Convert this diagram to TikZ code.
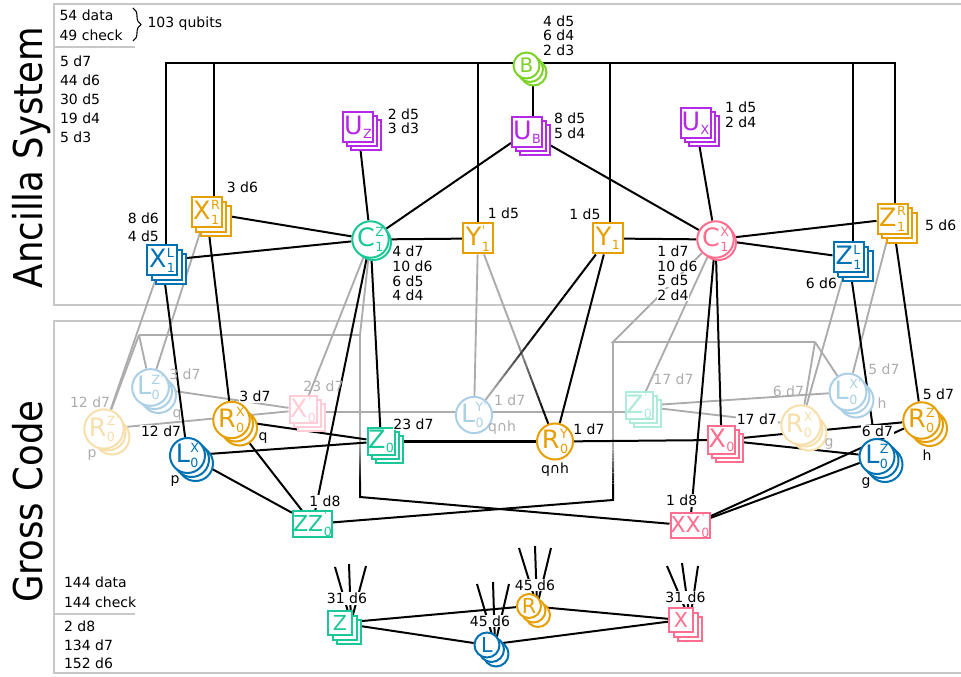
\documentclass[tikz,border=0pt]{standalone}
\usepackage{fontspec}
\setmainfont{DejaVu Sans}
\usepackage{graphicx}
\usetikzlibrary{calc,decorations.pathreplacing}
\definecolor{cblue}{RGB}{0,114,178}
\definecolor{corange}{RGB}{230,159,0}
\definecolor{cpink}{RGB}{255,110,142}
\definecolor{cteal}{RGB}{25,200,150}
\definecolor{cpurple}{RGB}{180,40,230}
\definecolor{clime}{RGB}{125,210,40}
\definecolor{cgray}{RGB}{172,172,172}
\definecolor{cframe}{RGB}{200,200,200}
\colorlet{fblue}{cblue!33}
\colorlet{forange}{corange!33}
\colorlet{fpink}{cpink!35}
\colorlet{fteal}{cteal!35}
\pgfdeclarelayer{bg}
\pgfsetlayers{bg,main}
% letter with subscript and superscript stacked on its right (subscript set first)
\newcommand\NL[3]{#1\kern0.4pt\begingroup\fontsize{9.5}{9.5}\selectfont
  \setbox0\hbox{\raisebox{7.8pt}{#2}}\setbox2\hbox{\raisebox{-3.8pt}{#3}}%
  \ifdim\wd0>\wd2 \dimen0=\wd0 \else\dimen0=\wd2 \fi
  \rlap{\box2}\hbox to \dimen0{\box0\hfil}\endgroup}
\newcommand\NS[2]{#1\kern0.4pt\raisebox{-3.2pt}{\fontsize{9.5}{9.5}\selectfont #2}}
\newcommand\pr{ˈ}
% #1 copies, #2 offset, #3 name, #4 x, #5 y, #6 style, #7 colour, #8 text
\newcommand\stk[8]{%
  \ifnum#1>2 \node[#6,draw=#7] (#3-c) at ({#4+2*#2},{#5+2*#2}) {};\fi
  \ifnum#1>1 \node[#6,draw=#7] (#3-b) at ({#4+#2},{#5+#2}) {};\fi
  \node[#6,draw=#7,text=#7] (#3) at (#4,#5) {#8};}
% gradient line: from, to, start colour, end colour, p0, p1
\newcommand\gradline[6]{%
  \path (#1) -- (#2) coordinate[pos=0] (gS) coordinate[pos=1] (gE);
  \foreach \i in {0,...,23}{%
    \pgfmathsetmacro\gA{\i/24}%
    \pgfmathsetmacro\gB{(\i+1)/24}%
    \pgfmathsetmacro\gP{100*min(1,max(0,((\i+0.5)/24-#5)/(#6-#5)))}%
    \draw[line width=1.5pt,color=#4!\gP!#3] ($(gS)!\gA!(gE)$) -- ($(gS)!\gB!(gE)$);
  }}
\tikzset{
  nbase/.style={inner sep=0pt, line width=1.5pt, fill=white, font=\fontsize{19}{19}\selectfont},
  sq/.style={nbase, rectangle, minimum width=#1, minimum height=#1},
  rc/.style 2 args={nbase, rectangle, minimum width=#1, minimum height=#2, font=\fontsize{16.5}{16.5}\selectfont},
  cc/.style={nbase, circle, minimum size=#1},
  conn/.style={line width=1.5pt, black},
  gconn/.style={line width=1.4pt, cgray},
  frm/.style={line width=1.5pt, cframe},
  lbl/.style={inner sep=0.6pt, fill=white, font=\fontsize{10.5}{12}\selectfont, anchor=west},
  glbl/.style={lbl, fill=none, text=cgray},
  small/.style={font=\fontsize{15.5}{15.5}\selectfont},
}
\begin{document}
\begin{tikzpicture}[x=0.75pt,y=-0.75pt]
\useasboundingbox (0,0) rectangle (961,677);

% ---------- nodes: ancilla ----------
\stk{3}{3.5}{B}{526.5}{65.5}{cc=19.5pt,font=\fontsize{15}{15}\selectfont}{clime}{B}
\stk{3}{4}{UB}{527}{132}{sq=22.5pt}{cpurple}{\NS{U}{B}}
\stk{3}{4}{UZ}{358}{127.5}{sq=22.5pt}{cpurple}{\NS{U}{Z}}
\stk{3}{4}{UX}{695.5}{123}{sq=22.5pt}{cpurple}{\NS{U}{X}}
\stk{2}{3}{C1Z}{370.5}{239.5}{cc=26.25pt}{cteal}{\NL{C}{Z}{1}}
\stk{2}{3}{C1X}{715.5}{239.5}{cc=26.25pt}{cpink}{\NL{C}{X}{1}}
\stk{1}{0}{Y1p}{478}{238.5}{sq=22.5pt}{corange}{\NL{Y}{\pr}{1}}
\stk{1}{0}{Y1}{608}{238.5}{sq=22.5pt}{corange}{\NS{Y}{1}}
\stk{3}{4.5}{X1R}{206.5}{212.5}{sq=22.5pt}{corange}{\NL{X}{R}{1}}
\stk{3}{4.5}{X1L}{162}{260.5}{sq=22.5pt}{cblue}{\NL{X}{L}{1}}
\stk{3}{4.5}{Z1R}{892.5}{219}{sq=22.5pt}{corange}{\NL{Z}{R}{1}}
\stk{3}{4.5}{Z1L}{848.5}{257.5}{sq=22.5pt}{cblue}{\NL{Z}{L}{1}}

% ---------- nodes: gross code (faded) ----------
\stk{3}{4}{RZp}{104}{429}{cc=26.25pt}{forange}{\NL{R}{Z\pr}{0}}
\stk{3}{4}{LZp}{150.5}{387.5}{cc=26.25pt}{fblue}{\NL{L}{Z\pr}{0}}
\stk{3}{4}{X0p}{303}{410}{sq=20.25pt}{fpink}{\NL{X}{\pr}{0}}
\stk{1}{0}{LYp}{474}{415}{cc=25.5pt}{fblue}{\NL{L}{Y\pr}{0}}
\stk{3}{4}{Z0p}{639}{406}{sq=20.25pt}{fteal}{\NL{Z}{\pr}{0}}
\stk{3}{4}{RXp}{801}{425}{cc=26.25pt}{forange}{\NL{R}{X\pr}{0}}
\stk{3}{4}{LXp}{848}{392}{cc=26.25pt}{fblue}{\NL{L}{X\pr}{0}}

% ---------- nodes: gross code ----------
\stk{3}{4}{L0X}{187.5}{455.5}{cc=26.25pt}{cblue}{\NL{L}{X}{0}}
\stk{3}{4}{R0X}{231.5}{420}{cc=26.25pt}{corange}{\NL{R}{X}{0}}
\stk{3}{4}{Z0}{381}{441.5}{sq=20.25pt}{cteal}{\NS{Z}{0}}
\stk{1}{0}{R0Y}{555}{441.5}{cc=25.5pt}{corange}{\NL{R}{Y}{0}}
\stk{3}{4}{X0}{721.5}{440}{sq=20.25pt}{cpink}{\NS{X}{0}}
\stk{3}{4}{L0Z}{877}{456.5}{cc=26.25pt}{cblue}{\NL{L}{Z}{0}}
\stk{3}{4}{R0Z}{921.5}{420.5}{cc=26.25pt}{corange}{\NL{R}{Z}{0}}
\stk{1}{0}{ZZ}{312.5}{524}{rc={29.25pt}{18pt}}{cteal}{\NL{ZZ}{\pr}{0}}
\stk{1}{0}{XX}{690}{525.5}{rc={29.25pt}{18pt}}{cpink}{\NL{XX}{\pr}{0}}

% ---------- nodes: bottom ----------
\stk{3}{4.5}{Zb}{340}{623}{sq=18pt,small}{cteal}{Z}
\stk{3}{4.5}{Lb}{487}{645}{cc=18.75pt,small}{cblue}{L}
\stk{3}{4.5}{Rb}{529}{606}{cc=18pt,small}{corange}{R}
\stk{3}{4.5}{Xb}{681}{620}{sq=18pt,small}{cpink}{X}

% ---------- coordinates ----------
\coordinate (bL) at (165.7,63.3);
\coordinate (bR) at (895,63.3);
\coordinate (b2) at (213.7,63.3);
\coordinate (b3) at (478,63.3);
\coordinate (b4) at (610,63.3);
\coordinate (b5) at (853,63.3);
\coordinate (bub) at (533,66);
\coordinate (rzc) at (360,335);
\coordinate (rzl) at (139,335);
\coordinate (rzg) at (360,445);
\coordinate (rzk) at (360,482);
\coordinate (rzb) at (360,497);
\coordinate (rxc) at (613,342);
\coordinate (rxr) at (815,342);
\coordinate (rxg) at (613,448);
\coordinate (rxk) at (613,485);
\coordinate (rxb) at (613,500);
\coordinate (zbase) at (351,622);
\coordinate (zs1) at (335,567);
\coordinate (zs2) at (349,564);
\coordinate (zs3) at (366,566);
\coordinate (lbase) at (495,645);
\coordinate (ls1) at (477,584);
\coordinate (ls2) at (493,582);
\coordinate (ls3) at (509,584);
\coordinate (rbase) at (537,606);
\coordinate (rs1) at (519,548);
\coordinate (rs2) at (535,546);
\coordinate (rs3) at (551,548);
\coordinate (xbase) at (690,620);
\coordinate (xs1) at (667,566);
\coordinate (xs2) at (682,563);
\coordinate (xs3) at (698,566);
\coordinate (br1) at (133,8);
\coordinate (br2) at (133,41);

\begin{pgfonlayer}{bg}
  % frames
  \draw[frm] (54,4) rectangle (990,305);
  \draw[frm] (54,320.7) rectangle (990,672.7);
  \draw[frm] (54,46.7) -- (135,46.7);
  \draw[frm] (54,613.7) -- (135,613.7);
  % gray connectors
  \draw[gconn] (X1L) -- (RZp);
  \draw[gconn] (X1R) -- (LZp);
  \draw[gconn] (C1Z) -- (X0p);
  \draw[gconn] (C1X) -- (Z0p);
  \draw[gconn] (Z1L) -- (RXp);
  \draw[gconn] (Z1R) -- (LXp);
  \draw[gconn] (Y1p) -- (LYp);
  \draw[gconn] (C1Z) -- (rzc) -- (rzl);
  \draw[gconn] (rzl) -- (RZp);
  \draw[gconn] (rzl) -- (LZp);
  \draw[gconn] (rzc) -- (rzg);
  \draw[gconn] (C1X) -- (rxc) -- (rxr);
  \draw[gconn] (rxr) -- (LXp);
  \draw[gconn] (rxr) -- (RXp);
  \draw[gconn] (rxc) -- (rxg);
  \draw[gconn] (RZp) -- (X0p);
  \draw[gconn] (LZp) -- (X0p);
  \draw[gconn] (X0p.east |- 0,412) -- (Z0p.west |- 0,412);
  \draw[gconn] (Z0p) -- (RXp);
  \draw[gconn] (Z0p) -- (LXp);
  % gradient connectors
  \gradline{rzg}{rzk}{cgray}{black}{0}{1}
  \gradline{rxg}{rxk}{cgray}{black}{0}{1}
  \gradline{Y1p}{R0Y}{cgray}{black}{0.5}{0.95}
  \gradline{Y1}{LYp}{black}{cgray}{0.55}{0.95}
  % black connectors: ancilla
  \draw[conn] (bL |- X1L.north) -- (bL) -- (bR) -- (bR |- Z1R.north);
  \draw[conn] (b2) -- (b2 |- X1R.north);
  \draw[conn] (b3) -- (b3 |- Y1p.north);
  \draw[conn] (b4) -- (b4 |- Y1.north);
  \draw[conn] (b5) -- (b5 |- Z1L.north);
  \draw[conn] (bub) -- (bub |- UB.north);
  \draw[conn] (UZ) -- (C1Z);
  \draw[conn] (UB) -- (C1Z);
  \draw[conn] (UB) -- (C1X);
  \draw[conn] (UX) -- (C1X);
  \draw[conn] (C1Z) -- (Y1p);
  \draw[conn] (Y1) -- (C1X);
  \draw[conn] (C1Z) -- (X1R);
  \draw[conn] (C1Z) -- (X1L);
  \draw[conn] (C1X) -- (Z1R);
  \draw[conn] (C1X) -- (Z1L);
  % ancilla to gross
  \draw[conn] (X1L) -- (L0X);
  \draw[conn] (X1R) -- (R0X);
  \draw[conn] (C1Z) -- (Z0);
  \draw[conn] (C1Z) -- (ZZ);
  \draw[conn] (Y1) -- (R0Y);
  \draw[conn] (C1X) -- (X0);
  \draw[conn] (C1X) -- (XX);
  \draw[conn] (Z1L) -- (L0Z);
  \draw[conn] (Z1R) -- (R0Z);
  % gross code
  \draw[conn] (R0X) -- (Z0);
  \draw[conn] (L0X) -- (Z0);
  \draw[conn] (Z0) -- (R0Y);
  \draw[conn] (R0Y) -- (X0);
  \draw[conn] (X0) -- (R0Z);
  \draw[conn] (X0) -- (L0Z);
  \draw[conn] (L0X) -- (ZZ);
  \draw[conn] (R0X) -- (ZZ);
  \draw[conn] (XX) -- (L0Z);
  \draw[conn] (XX) -- (R0Z);
  \draw[conn] (rzk) -- (rzb) -- (XX);
  \draw[conn] (rxk) -- (rxb) -- (ZZ);
  % bottom
  \draw[conn] (Zb) -- (Rb);
  \draw[conn] (Zb) -- (Lb);
  \draw[conn] (Rb) -- (Xb);
  \draw[conn] (Lb) -- (Xb);
  \foreach \b/\s in {zbase/zs1,zbase/zs2,zbase/zs3,lbase/ls1,lbase/ls2,lbase/ls3,rbase/rs1,rbase/rs2,rbase/rs3,xbase/xs1,xbase/xs2,xbase/xs3}
    \draw[conn] (\b) -- (\s);
\end{pgfonlayer}

% brace
\draw[line width=0.8pt, decorate, decoration={brace, amplitude=6pt}] (br1) -- (br2);

% big titles
\node[rotate=90, anchor=base, inner sep=0pt] (tAnc) at (42.5,157.5)
  {\scalebox{1}[1.12]{\fontsize{26.6}{27}\selectfont Ancilla System}};
\node[rotate=90, anchor=base, inner sep=0pt] (tGro) at (42.5,501.5)
  {\scalebox{1}[1.12]{\fontsize{26.6}{27}\selectfont Gross Code}};

% stats
\node[lbl] (s1) at (58.5,15) {54 data};
\node[lbl] (s2) at (58.5,35) {49 check};
\node[lbl] (s3) at (146.5,24) {103 qubits};
\foreach \t [count=\k from 0] in {5 d7,44 d6,30 d5,19 d4,5 d3}
  \node[lbl] (sa\k) at (59,{61+19.05*\k}) {\t};
\node[lbl] (g1) at (63,582.3) {144 data};
\node[lbl] (g2) at (63,602.6) {144 check};
\node[lbl] (g3) at (63,626.3) {2 d8};
\node[lbl] (g4) at (63,644.9) {134 d7};
\node[lbl] (g5) at (63,663.5) {152 d6};

% ancilla labels
\foreach \t [count=\k from 0] in {4 d5,6 d4,2 d3}
  \node[lbl] (lB\k) at (542,{21+14.4*\k}) {\t};
\foreach \t [count=\k from 0] in {8 d5,5 d4}
  \node[lbl] (lUB\k) at (553,{118.5+14.5*\k}) {\t};
\foreach \t [count=\k from 0] in {2 d5,3 d3}
  \node[lbl] (lUZ\k) at (386.7,{114+14*\k}) {\t};
\foreach \t [count=\k from 0] in {1 d5,2 d4}
  \node[lbl] (lUX\k) at (724,{107+15*\k}) {\t};
\foreach \t [count=\k from 0] in {4 d7,10 d6,6 d5,4 d4}
  \node[lbl] (lCZ\k) at (391.3,{251+14.9*\k}) {\t};
\foreach \t [count=\k from 0] in {1 d7,10 d6,5 d5,2 d4}
  \node[lbl] (lCX\k) at (656.3,{251.7+14.5*\k}) {\t};
\node[lbl] (lY1p) at (486.7,212.8) {1 d5};
\node[lbl] (lY1) at (568.3,213.8) {1 d5};
\node[lbl] (lX1R) at (225.7,187) {3 d6};
\node[lbl] (lX1La) at (126.7,218.5) {8 d6};
\node[lbl] (lX1Lb) at (126.7,236) {4 d5};
\node[lbl] (lZ1R) at (924,225) {5 d6};
\node[lbl] (lZ1L) at (804.7,283) {6 d6};

% gross labels (faded)
\node[glbl] (lRZp) at (69,402) {12 d7};
\node[glbl] (lLZp) at (168.3,374) {3 d7};
\node[glbl, anchor=center] (qLZp) at (177,415) {q};
\node[glbl, anchor=center] (pRZp) at (92,455) {p};
\node[glbl] (lX0p) at (302.3,386.5) {23 d7};
\node[glbl] (lLYp) at (493,400.5) {1 d7};
\node[glbl, anchor=center] (qhLYp) at (502,428) {q∩h};
\node[glbl] (lZ0p) at (652.3,379) {17 d7};
\node[glbl] (lRXp) at (771.7,391.5) {6 d7};
\node[glbl] (lLXp) at (867.3,369.5) {5 d7};
\node[glbl, anchor=center] (gRXp) at (829,444) {g};
\node[glbl, anchor=center] (hLXp) at (882,403) {h};

% gross labels
\node[lbl] (lL0X) at (140,431.5) {12 d7};
\node[lbl, anchor=center] (pL0X) at (175,481) {p};
\node[lbl] (lR0X) at (238.3,396.5) {3 d7};
\node[lbl, anchor=center] (qR0X) at (263,438) {q};
\node[lbl] (lZZ) at (308.3,501.5) {1 d8};
\node[lbl] (lZ0) at (392.3,424) {23 d7};
\node[lbl] (lR0Y) at (572.3,428.8) {1 d7};
\node[lbl, anchor=center] (qhR0Y) at (555,470) {q∩h};
\node[lbl] (lX0) at (735.7,418.8) {17 d7};
\node[lbl] (lL0Z) at (860.7,431.5) {6 d7};
\node[lbl] (lR0Z) at (921.7,393.8) {5 d7};
\node[lbl, anchor=center] (gL0Z) at (866,483) {g};
\node[lbl, anchor=center] (hR0Z) at (927,455) {h};
\node[lbl] (lXX) at (665,500.5) {1 d8};

% bottom labels
\node[lbl, anchor=center] (lZb) at (347,598.5) {31 d6};
\node[lbl, anchor=center] (lLb) at (490,621) {45 d6};
\node[lbl, anchor=center] (lRb) at (535,585) {45 d6};
\node[lbl, anchor=center] (lXb) at (685.5,597.5) {31 d6};
\end{tikzpicture}
\end{document}
